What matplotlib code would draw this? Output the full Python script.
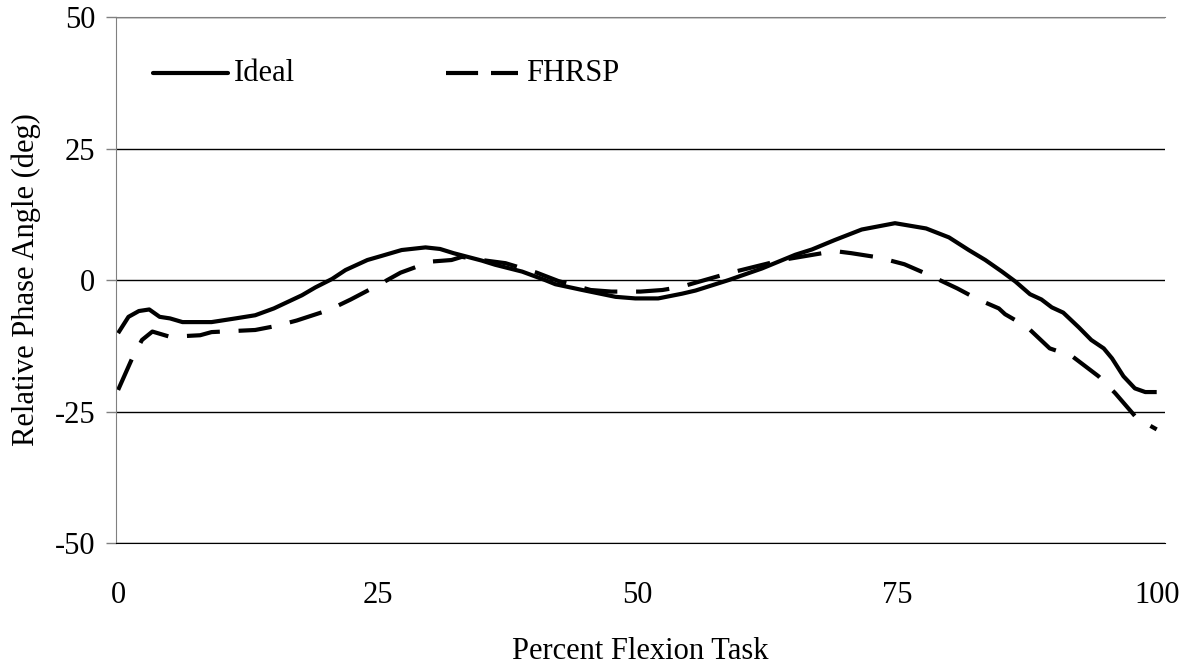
import matplotlib
matplotlib.use("Agg")
import matplotlib.pyplot as plt

plt.rcParams['font.family'] = ['Liberation Serif', 'DejaVu Serif']

ideal_x = [0, 1, 2, 3, 4, 5, 6.2, 9, 11.3, 13.2, 15, 17.7, 19, 20.6, 21.9, 24, 25.4, 27.3,
           29.6, 31, 32.3, 35, 36.3, 38.9, 41.1, 42.1, 44.7, 47.9, 49.8, 52, 54.3, 55.6,
           58.8, 62, 65.2, 66.8, 69, 71.6, 74.8, 77.8, 80, 81.9, 83.5, 85.1, 86.4, 87.8,
           88.9, 89.9, 91, 92.5, 93.7, 94.9, 95.7, 96.8, 97.9, 98.9, 100]
ideal_y = [-10.1, -7.0, -5.9, -5.6, -7.0, -7.3, -8.0, -8.0, -7.3, -6.7, -5.4, -2.9, -1.4,
           0.2, 1.9, 3.8, 4.6, 5.7, 6.2, 5.9, 5.1, 3.7, 2.9, 1.6, 0.0, -0.8, -1.9, -3.2,
           -3.5, -3.5, -2.6, -2.0, 0.0, 2.2, 4.8, 5.8, 7.6, 9.6, 10.8, 9.8, 8.1, 5.7, 3.8,
           1.6, -0.3, -2.7, -3.7, -5.2, -6.2, -9.0, -11.4, -13.0, -14.9, -18.3, -20.6,
           -21.3, -21.3]

fhrsp_x = [0, 1.35, 2.3, 3.3, 5, 7.9, 9, 13.2, 15.3, 17.2, 20.3, 22.4, 25.2, 27.2, 30.1,
           32.1, 33.1, 35, 37.3, 40.3, 42.4, 45.5, 47.5, 50.3, 52.4, 54.2, 58.8, 63.9,
           67.8, 69.4, 70.6, 73.2, 75.7, 77.8, 80.8, 82.7, 84.8, 85.4, 87.5, 89.7, 91.8,
           94.4, 96, 98.1, 100]
fhrsp_y = [-20.9, -14.9, -11.4, -9.8, -10.8, -10.5, -9.9, -9.5, -8.7, -7.7, -5.7, -3.7,
           -0.8, 1.4, 3.5, 3.8, 4.4, 3.8, 3.2, 1.4, -0.2, -1.9, -2.2, -2.2, -1.9, -1.3,
           1.3, 3.8, 5.1, 5.4, 5.1, 4.3, 3.0, 1.2, -1.6, -3.6, -5.4, -6.5, -8.9, -13.0,
           -14.4, -18.3, -21.5, -26.3, -28.4]

x_ticks = [0, 25, 50, 75, 100]
y_ticks = [-50, -25, 0, 25, 50]
series_names = ["Ideal", "FHRSP"]

FS = 22

fig = plt.figure(figsize=(11.9, 6.69), dpi=100)
ax = fig.add_axes([0.0975, 0.1883, 0.8815, 0.7863])

ax.set_xlim(-0.2, 100.8)
ax.set_ylim(-50, 50)
ax.set_yticks(y_ticks)
ax.set_xticks(x_ticks)
ax.set_yticklabels([str(v) for v in y_ticks], fontsize=FS)
ax.set_xticklabels([str(v) for v in x_ticks], fontsize=FS)
ax.tick_params(axis='x', length=0, pad=27)
ax.tick_params(axis='y', length=7, width=1, color='#808080', pad=8)

ax.grid(axis='y', color='black', linewidth=1)
ax.set_axisbelow(True)
ax.spines['right'].set_visible(False)
ax.spines['left'].set_color('#808080')
ax.spines['top'].set_color('#808080')
ax.spines['bottom'].set_color('black')

ax.plot(ideal_x, ideal_y, color='black', linewidth=3, solid_capstyle='butt',
        solid_joinstyle='round')
ax.plot(fhrsp_x, fhrsp_y, color='black', linewidth=3, dashes=(8, 4.5),
        dash_capstyle='butt')

# legend (manual)
ax.plot([0.0352, 0.1067], [0.8935, 0.8935], transform=ax.transAxes, color='black',
        linewidth=3, solid_capstyle='round')
ax.text(0.1124, 0.8935, series_names[0], transform=ax.transAxes, fontsize=FS,
        va='center', ha='left')
ax.plot([0.3143, 0.3829], [0.8935, 0.8935], transform=ax.transAxes, color='black',
        linewidth=3, dashes=(7.7, 3.1), dash_capstyle='butt')
ax.text(0.3905, 0.8935, series_names[1], transform=ax.transAxes, fontsize=FS,
        va='center', ha='left')

ax.set_xlabel("Percent Flexion Task", fontsize=FS, labelpad=20)
ax.set_ylabel("Relative Phase Angle (deg)", fontsize=FS, labelpad=10)

fig.savefig("out.png", dpi=100)
